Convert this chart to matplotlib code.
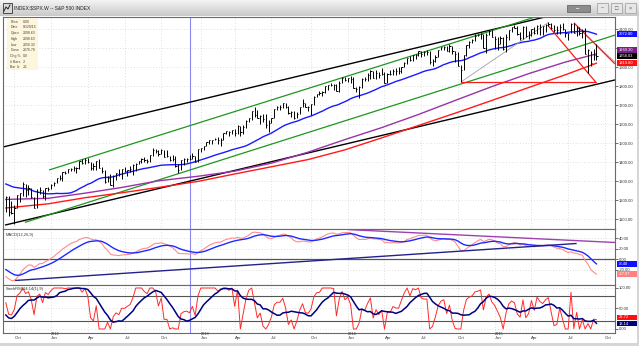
import numpy as np
import pandas as pd
import matplotlib
matplotlib.use("Agg")
import matplotlib.pyplot as plt
import matplotlib.dates as mdates
from matplotlib.patches import Rectangle
from matplotlib.colors import LinearSegmentedColormap

plt.rcParams["font.family"] = ["Liberation Sans", "DejaVu Sans"]

TITLE = "INDEX:$SPX.W -- S&P 500 INDEX"

# weekly bars, each dated by the Monday of its week
FIRST_WEEK = "2011-09-12"

H11 = [1220.4, 1220.4, 1195.9, 1171.4, 1224.6, 1239.0, 1292.7, 1285.0, 1277.6, 1264.3, 1215.7, 1255.6,
       1267.1, 1255.2, 1265.4, 1269.4]
L11 = [1136.1, 1114.2, 1128.9, 1074.8, 1155.5, 1191.5, 1221.1, 1215.4, 1226.6, 1209.4, 1158.7, 1158.7,
       1231.5, 1209.5, 1202.4, 1248.6]
C11 = [1216.0, 1136.4, 1131.4, 1155.5, 1224.6, 1238.3, 1285.1, 1253.2, 1263.9, 1215.7, 1158.7, 1244.3,
       1255.2, 1219.7, 1265.3, 1257.6]

H12 = [1286.1, 1296.8, 1315.5, 1333.5, 1345.3, 1354.3, 1363.4, 1368.9, 1378.0, 1371.9, 1405.9, 1414.0,
       1419.2, 1422.4, 1398.1, 1392.8, 1406.6, 1415.3, 1373.9, 1359.0, 1328.5, 1334.9, 1329.1, 1343.3,
       1363.5, 1362.2, 1374.8, 1357.3, 1380.4, 1389.2, 1394.2, 1406.0, 1418.7, 1426.7, 1413.5, 1437.9,
       1474.5, 1467.1, 1463.5, 1471.0, 1464.0, 1464.0, 1433.8, 1434.3, 1433.4, 1388.8, 1409.2, 1421.6,
       1423.7, 1438.6, 1448.0, 1430.2]
L12 = [1258.1, 1274.7, 1290.2, 1306.1, 1300.5, 1335.9, 1340.0, 1352.3, 1354.9, 1340.0, 1365.7, 1386.9,
       1391.6, 1392.9, 1357.4, 1358.8, 1358.8, 1368.0, 1343.1, 1292.0, 1295.7, 1277.3, 1266.7, 1306.6,
       1324.4, 1309.3, 1348.0, 1325.4, 1345.1, 1329.2, 1354.7, 1391.7, 1397.3, 1398.0, 1397.0, 1398.8,
       1429.1, 1450.0, 1430.5, 1440.9, 1425.5, 1428.6, 1403.3, 1406.0, 1373.0, 1343.4, 1359.9, 1385.4,
       1398.1, 1411.9, 1416.4, 1401.6]
C12 = [1277.8, 1289.1, 1315.4, 1316.3, 1344.9, 1342.6, 1361.2, 1365.7, 1369.6, 1370.9, 1404.2, 1397.1,
       1408.5, 1398.1, 1370.3, 1378.5, 1403.4, 1369.1, 1353.4, 1295.2, 1317.8, 1278.0, 1325.7, 1342.8,
       1335.0, 1362.2, 1354.7, 1356.8, 1362.7, 1386.0, 1391.0, 1405.9, 1418.2, 1411.1, 1406.6, 1437.9,
       1465.8, 1460.2, 1440.7, 1460.9, 1428.6, 1433.2, 1411.9, 1414.2, 1379.9, 1359.9, 1409.2, 1416.2,
       1418.1, 1413.6, 1430.2, 1402.4]

H13 = [1467.9, 1472.3, 1486.0, 1503.3, 1514.4, 1518.3, 1524.7, 1530.9, 1525.8, 1552.5, 1563.6, 1560.7,
       1570.3, 1573.7, 1597.4, 1588.9, 1592.6, 1618.5, 1633.7, 1667.5, 1687.2, 1674.2, 1646.5, 1654.2,
       1654.2, 1620.1, 1631.9, 1680.2, 1693.1, 1698.8, 1709.7, 1709.2, 1696.8, 1669.5, 1669.2, 1664.8,
       1690.0, 1729.9, 1711.2, 1696.6, 1703.4, 1745.3, 1759.8, 1775.2, 1774.5, 1798.2, 1804.8, 1813.6,
       1808.4, 1808.5, 1823.8, 1844.9]
L13 = [1401.4, 1451.6, 1463.8, 1485.0, 1496.0, 1495.0, 1513.6, 1497.3, 1485.0, 1514.7, 1547.4, 1538.6,
       1546.2, 1539.5, 1548.6, 1536.0, 1548.2, 1581.3, 1609.8, 1623.7, 1635.5, 1630.7, 1598.2, 1608.2,
       1577.7, 1560.3, 1603.6, 1631.9, 1673.8, 1676.0, 1681.9, 1683.4, 1654.2, 1639.4, 1627.5, 1633.4,
       1655.2, 1688.0, 1687.1, 1670.4, 1646.5, 1700.7, 1743.5, 1752.7, 1746.2, 1760.6, 1780.6, 1797.9,
       1779.1, 1772.3, 1768.0, 1818.3]
C13 = [1466.5, 1472.1, 1486.0, 1503.0, 1513.2, 1517.9, 1519.8, 1515.6, 1518.2, 1551.2, 1560.7, 1556.9,
       1569.2, 1553.3, 1588.9, 1555.3, 1582.2, 1614.4, 1633.7, 1667.5, 1649.6, 1630.7, 1643.4, 1626.7,
       1592.4, 1606.3, 1631.9, 1680.2, 1692.1, 1691.7, 1709.7, 1691.4, 1655.8, 1663.5, 1633.0, 1655.2,
       1688.0, 1709.9, 1691.8, 1690.5, 1703.2, 1744.5, 1759.8, 1761.6, 1770.6, 1798.2, 1804.8, 1805.8,
       1805.1, 1775.3, 1818.3, 1841.4]

H14 = [1849.4, 1843.2, 1850.8, 1849.3, 1793.9, 1798.0, 1841.7, 1847.5, 1867.9, 1883.6, 1878.3, 1884.0,
       1875.2, 1897.3, 1872.5, 1869.6, 1884.9, 1891.3, 1897.1, 1902.2, 1901.3, 1924.0, 1949.4, 1955.6,
       1963.9, 1968.2, 1985.6, 1984.9, 1983.9, 1991.4, 1984.9, 1942.9, 1964.0, 1991.7, 2005.0, 2011.2,
       2009.1, 2019.3, 2010.4, 1986.4, 1977.8, 1912.1, 1965.3, 2018.2, 2034.3, 2046.2, 2071.5, 2075.8,
       2079.5, 2075.8, 2077.9, 2093.6]
L14 = [1827.7, 1823.7, 1815.5, 1790.3, 1770.5, 1737.9, 1791.8, 1824.6, 1825.6, 1834.4, 1839.6, 1839.5,
       1842.8, 1856.7, 1814.4, 1815.8, 1859.7, 1860.2, 1859.8, 1862.4, 1868.1, 1900.5, 1916.0, 1929.4,
       1930.9, 1944.7, 1958.2, 1952.9, 1955.6, 1965.8, 1916.4, 1904.8, 1928.3, 1953.3, 1988.1, 1990.1,
       1983.0, 1978.5, 1966.0, 1926.0, 1905.0, 1820.7, 1886.8, 1957.8, 2001.0, 2028.4, 2034.5, 2064.8,
       2049.6, 2002.3, 1972.6, 2069.7]
C14 = [1831.4, 1842.4, 1838.7, 1790.3, 1782.6, 1797.0, 1838.6, 1836.3, 1859.5, 1878.0, 1841.1, 1866.5,
       1857.6, 1865.1, 1815.7, 1864.9, 1863.4, 1881.1, 1878.5, 1877.9, 1900.5, 1923.6, 1949.4, 1936.2,
       1962.9, 1961.0, 1985.4, 1967.6, 1978.2, 1978.3, 1925.2, 1931.6, 1955.1, 1988.4, 2003.4, 2007.7,
       1985.5, 2010.4, 1982.9, 1967.9, 1906.1, 1886.8, 1964.6, 2018.1, 2031.9, 2039.8, 2063.5, 2067.6,
       2075.4, 2002.3, 2070.7, 2088.8]

H15 = [2093.0, 2064.4, 2056.9, 2064.6, 2057.6, 2072.4, 2097.0, 2110.6, 2119.6, 2117.5, 2083.5, 2113.9,
       2114.9, 2089.8, 2102.6, 2111.9, 2120.9, 2125.9, 2117.7, 2123.9, 2134.7, 2133.0, 2121.9, 2115.0,
       2126.7, 2131.0, 2100.0, 2078.6, 2129.9, 2132.8, 2114.2, 2112.7, 2102.3, 2102.9, 1993.5, 1986.7,
       1993.0, 2020.9]
L15 = [2057.9, 1992.4, 1988.1, 2019.4, 1989.2, 1980.9, 2041.9, 2085.4, 2103.0, 2067.3, 2039.7, 2046.7,
       2055.8, 2045.5, 2062.1, 2072.4, 2074.7, 2067.9, 2067.9, 2085.6, 2118.2, 2099.1, 2085.7, 2072.1,
       2072.5, 2095.7, 2056.3, 2044.0, 2077.0, 2077.7, 2063.5, 2067.9, 2052.1, 1970.9, 1867.0, 1903.1,
       1935.0, 1938.0]
C15 = [2058.2, 2044.8, 2019.4, 2051.8, 1995.0, 2055.5, 2097.0, 2110.3, 2104.5, 2071.3, 2053.4, 2108.1,
       2061.0, 2067.0, 2102.1, 2081.2, 2117.7, 2108.3, 2116.1, 2122.7, 2126.1, 2107.4, 2092.8, 2094.1,
       2110.0, 2101.5, 2076.8, 2076.6, 2126.6, 2079.7, 2103.8, 2077.6, 2091.5, 1970.9, 1988.9, 1921.2,
       1961.1, 1958.0]

# closes of the weeks before the first bar (Nov 2010 - Sep 2011), only used to warm up the indicators
PRE_CLOSE = [1225.9, 1199.2, 1199.7, 1189.4, 1224.7, 1240.4, 1243.9, 1256.8, 1257.6,
             1271.5, 1293.2, 1283.4, 1276.3, 1310.9, 1329.2, 1343.0, 1319.9, 1321.2, 1304.3,
             1279.2, 1313.8, 1332.4, 1328.2, 1319.7, 1337.4, 1363.6, 1340.2, 1337.8, 1333.3,
             1331.1, 1300.2, 1271.0, 1271.5, 1268.5, 1339.7, 1343.8, 1316.1, 1345.0, 1292.3,
             1199.4, 1178.8, 1123.5, 1176.8, 1174.0, 1154.2]

# long moving averages (purple, red)
MA_DATES = ["2011-09-12", "2011-12-26", "2012-03-26", "2012-06-25", "2012-09-24", "2012-12-31",
            "2013-04-01", "2013-07-01", "2013-09-30", "2013-12-30", "2014-03-31", "2014-06-30",
            "2014-09-29", "2014-12-29", "2015-03-30", "2015-06-29", "2015-09-14"]
PURPLE_MA = [1203, 1209, 1236, 1266, 1301, 1325, 1352, 1394, 1452, 1518, 1581, 1650, 1724, 1797,
             1865, 1926, 1969]
RED_MA = [1158, 1180, 1212, 1238, 1266, 1298, 1337, 1375, 1413, 1464, 1527, 1592, 1657, 1724, 1792,
          1859, 1920]

# hand drawn lines: (start date, value), (end date, value)
UPPER_BLACK = [("2011-09-05", 1479), ("2015-05-19", 2168)]
LOWER_BLACK = [("2011-09-10", 1068), ("2015-10-30", 1832)]
UPPER_GREEN = [("2011-12-28", 1358), ("2015-04-15", 2163)]
LOWER_GREEN = [("2011-10-29", 1082), ("2015-10-30", 2068)]
GRAY_UP = [("2014-10-13", 1820.7), ("2015-05-18", 2134.7)]
GRAY_DOWN = [("2015-08-17", 2070), ("2015-10-30", 1926)]
RED_FLAT = [("2014-10-13", 1820.7), ("2015-09-14", 1820.7)]
RED_DOWN_1 = [("2015-07-20", 2133), ("2015-10-30", 1916)]
RED_DOWN_2 = [("2015-05-18", 2116), ("2015-09-14", 1816)]
MACD_LOW_LINE = [("2011-10-05", -40), ("2015-07-27", 30.5)]
MACD_TOP_LINE = [("2014-01-07", 57), ("2015-10-30", 32.4)]
CURSOR_DATE = "2012-12-11"

# value tags on the right axis
PRICE_TAGS = [("2072.80", 2072.80, "#1010ff"), ("1969.30", 1969.30, "#7a1f86"),
              ("1958.03", 1958.03, "#000000"), ("1919.80", 1919.80, "#ff1010")]
MACD_TAGS = [("-8.40", -8.40, "#1010ff"), ("-27.07", -27.07, "#ff8080")]
STOCH_TAGS = [("22.72", 22.72, "#ff1010"), ("13.14", 13.14, "#000080")]

INFO = [("Price", "0.00"), ("Date", "06/29/15"), ("Open", "2098.63"), ("High", "2098.63"),
        ("Low", "2056.32"), ("Close", "2076.78"), ("Chg %", "0.0"), ("# Bars", "-2"), ("Bar Ix", "-11")]

W, H = 639, 346
fig = plt.figure(figsize=(W / 100, H / 100), dpi=100)
fig.patch.set_facecolor("white")


def rect(x0, y0, x1, y1):
    # pixel box, top-left origin -> figure fraction
    return [x0 / W, 1 - y1 / H, (x1 - x0) / W, (y1 - y0) / H]


def seg(a, pts, **kw):
    xs = [mdates.date2num(pd.Timestamp(d)) for d, _ in pts]
    a.plot(xs, [v for _, v in pts], solid_capstyle="butt", **kw)


ax = fig.add_axes(rect(3, 17, 615, 229))
axm = fig.add_axes(rect(3, 229, 615, 285), sharex=ax)
axs = fig.add_axes(rect(3, 285, 615, 333), sharex=ax)

high = H11 + H12 + H13 + H14 + H15
low = L11 + L12 + L13 + L14 + L15
close = C11 + C12 + C13 + C14 + C15
weeks = pd.date_range(FIRST_WEEK, periods=len(close), freq="7D")
pre_weeks = pd.date_range(end=weeks[0] - pd.Timedelta(days=7), periods=len(PRE_CLOSE), freq="7D")
s = pd.Series(PRE_CLOSE + close, index=pre_weeks.append(weeks))
n0 = len(PRE_CLOSE)
xw = mdates.date2num(weeks)

# indicators
ma30 = s.rolling(30).mean().iloc[n0:]
macd = s.ewm(span=12, adjust=False).mean() - s.ewm(span=26, adjust=False).mean()
sig = macd.ewm(span=9, adjust=False).mean()
d = s.diff()
up = d.clip(lower=0).ewm(alpha=1 / 14, adjust=False).mean()
dn = (-d.clip(upper=0)).ewm(alpha=1 / 14, adjust=False).mean()
rsi = 100 - 100 / (1 + up / dn)
k = (rsi - rsi.rolling(14).min()) / (rsi.rolling(14).max() - rsi.rolling(14).min()) * 100
kd = k.rolling(9).mean()

x0 = mdates.date2num(pd.Timestamp("2011-09-05"))
x1 = mdates.date2num(pd.Timestamp("2015-10-30"))

# quarter ticks at the first Monday bar of Jan/Apr/Jul/Oct
mondays = pd.date_range("2011-09-05", "2015-10-26", freq="W-MON")
qt = [m for i, m in enumerate(mondays) if m.month in (1, 4, 7, 10) and (i == 0 or mondays[i - 1].month != m.month)]
qx = mdates.date2num(pd.DatetimeIndex(qt))

for a in (ax, axm, axs):
    a.set_facecolor("white")
    for sp in a.spines.values():
        sp.set_color("#6a6a6a")
        sp.set_linewidth(0.8)
    a.yaxis.tick_right()
    a.tick_params(axis="y", labelsize=3.0, length=1.8, width=0.5, pad=1.2, colors="#333333")
    a.tick_params(axis="x", length=0, labelbottom=False)
    a.set_xticks(qx)
    a.grid(True, color="#c4c4c4", lw=0.5, ls=(0, (1, 3)))
    a.set_axisbelow(True)
    a.axvline(mdates.date2num(pd.Timestamp(CURSOR_DATE)), color="#8a8aee", lw=0.8)
ax.set_xlim(x0, x1)

# price panel
ax.set_ylim(1047.4, 2163.2)
ax.set_yticks(range(1100, 2101, 100))
ax.set_yticklabels([f"{v:.2f}" for v in range(1100, 2101, 100)])
seg(ax, UPPER_BLACK, color="black", lw=1.0)
seg(ax, LOWER_BLACK, color="black", lw=1.0)
seg(ax, UPPER_GREEN, color="#1e961e", lw=0.9)
seg(ax, LOWER_GREEN, color="#1e961e", lw=0.9)
ma_x = mdates.date2num(pd.DatetimeIndex(MA_DATES))
ax.plot(ma_x, RED_MA, color="#ff1a1a", lw=1.0)
ax.plot(ma_x, PURPLE_MA, color="#9a32a8", lw=1.0)
ax.plot(xw, ma30.values, color="#1a1aff", lw=1.0)
seg(ax, GRAY_UP, color="#a0a0a0", lw=0.6)
seg(ax, GRAY_DOWN, color="#a0a0a0", lw=0.6)
seg(ax, RED_FLAT, color="#ff1a1a", lw=0.9)
seg(ax, RED_DOWN_1, color="#ff1a1a", lw=0.9)
seg(ax, RED_DOWN_2, color="#ff1a1a", lw=0.9)
ax.vlines(xw, low, high, color="black", lw=0.7)
ax.hlines(close, xw, xw + 3, color="black", lw=0.7)

# MACD panel
axm.set_ylim(-48.6, 58.1)
axm.set_yticks([-20, 0, 20, 40])
axm.set_yticklabels(["-20.00", "0.00", "20.00", "40.00"])
axm.axhline(0, color="#555555", lw=0.9)
axm.plot(xw, macd.iloc[n0:].values, color="#ff8c8c", lw=0.8)
axm.plot(xw, sig.iloc[n0:].values, color="#1e2aff", lw=1.0)
seg(axm, MACD_LOW_LINE, color="#22228a", lw=1.0)
seg(axm, MACD_TOP_LINE, color="#a040b0", lw=1.0)
axm.text(0.004, 0.93, "MACD(12,26,9)", transform=axm.transAxes, fontsize=2.9, va="top", color="#333333")

# StochRSI panel
axs.set_ylim(-9.8, 107.3)
axs.set_yticks([0, 50, 100])
axs.set_yticklabels(["0.00", "50.00", "100.00"])
axs.axhline(80, color="#555555", lw=0.8)
axs.axhline(20, color="#555555", lw=0.8)
axs.plot(xw, k.iloc[n0:].values, color="#ff2a2a", lw=0.7)
axs.plot(xw, kd.iloc[n0:].values, color="#000080", lw=1.1)
axs.text(0.004, 0.95, "StochRSI(14,14(1),9)", transform=axs.transAxes, fontsize=2.9, va="top", color="#333333")

# date labels under the bottom panel
for t, xv in zip(qt, qx):
    px = 3 + (xv - x0) / (x1 - x0) * 612
    if px > 614:
        continue
    fig.text(px / W, 1 - 338.3 / H, t.strftime("%b"), fontsize=3.1, ha="left", va="center", color="#333333")
    if t.month == 1:
        fig.text(px / W, 1 - 334.3 / H, str(t.year), fontsize=2.8, ha="left", va="center", color="#333333")


def tags(a, items, gap=6.2):
    ys = [H - a.transData.transform((x0, v))[1] for _, v, _ in items]
    for i in range(1, len(ys)):
        if ys[i] - ys[i - 1] < gap:
            ys[i - 1] = ys[i] - gap
    for (txt, _, col), y in zip(items, ys):
        fig.add_artist(Rectangle((617 / W, 1 - (y + 2.8) / H), 20 / W, 5.6 / H, transform=fig.transFigure,
                                 facecolor=col, edgecolor="none"))
        fig.text(618.5 / W, 1 - y / H, txt, fontsize=2.9, color="white", va="center", ha="left")


tags(ax, PRICE_TAGS)
tags(axm, MACD_TAGS)
tags(axs, STOCH_TAGS)

# info box
fig.add_artist(Rectangle((7 / W, 1 - 70 / H), 31 / W, 52 / H, transform=fig.transFigure,
                         facecolor="#fdf5dc", edgecolor="none"))
for i, (a_, b_) in enumerate(INFO):
    yy = 21.7 + i * 5.7
    fig.text(10.5 / W, 1 - yy / H, a_, fontsize=2.5, va="center", color="#444444")
    fig.text(23 / W, 1 - yy / H, b_, fontsize=2.5, va="center", color="#444444")

# window title bar
tb = fig.add_axes(rect(0, 0, 639, 16))
tb.imshow(np.linspace(0, 1, 32)[:, None], aspect="auto", extent=(0, 639, 16, 0),
          cmap=LinearSegmentedColormap.from_list("tb", ["#f4f4f4", "#c9c9c9"]))
tb.set_xlim(0, 639)
tb.set_ylim(16, 0)
tb.axis("off")
tb.add_patch(Rectangle((2.5, 3), 9, 10, facecolor="#d8d8d8", edgecolor="#333333", lw=0.6))
tb.plot([4, 6, 8, 10], [11, 7, 9, 5], color="#222222", lw=0.7)
tb.text(14, 8.5, TITLE, fontsize=3.5, va="center", color="#222222")
tb.add_patch(Rectangle((567, 5), 23, 7, facecolor="#8c8c8c", edgecolor="#5a5a5a", lw=0.5))
tb.text(578.5, 8.6, "\u25aa\u25aa\u25aa", fontsize=3, ha="center", va="center", color="#eeeeee")
for bx, sym in [(597, "\u2013"), (611, "\u25a1"), (625, "\u00d7")]:
    tb.add_patch(Rectangle((bx, 3), 11, 10, facecolor="#e6e6e6", edgecolor="#9a9a9a", lw=0.5))
    tb.text(bx + 5.5, 8.3, sym, fontsize=4, ha="center", va="center", color="#555555")

# outer frame strips
fr = fig.add_axes(rect(0, 343, 639, 346))
fr.set_facecolor("#d6d6d6")
fr.set_xticks([])
fr.set_yticks([])
for sp in fr.spines.values():
    sp.set_visible(False)
fr2 = fig.add_axes(rect(637, 16, 639, 346))
fr2.set_facecolor("#d6d6d6")
fr2.set_xticks([])
fr2.set_yticks([])
for sp in fr2.spines.values():
    sp.set_visible(False)

fig.savefig("out.png", dpi=100)
